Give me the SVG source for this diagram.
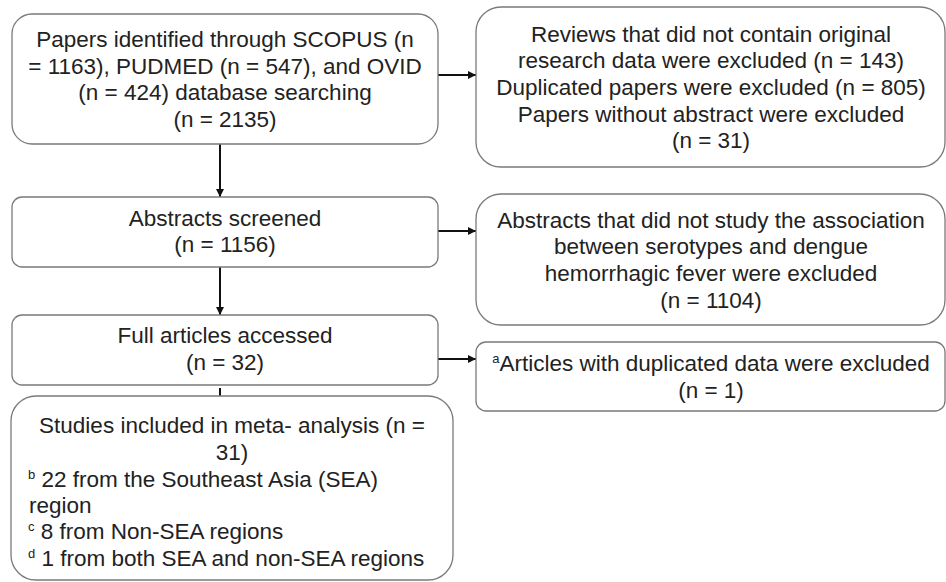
<svg xmlns="http://www.w3.org/2000/svg" width="946" height="582" viewBox="0 0 946 582">
<defs>
<style>
.box{fill:#fff;stroke:#7a7a7a;stroke-width:1.3}
.t{font-family:"Liberation Sans",Arial,sans-serif;font-size:22.5px;fill:#222}
.c{text-anchor:middle}
.sup{font-size:13px}
.conn{stroke:#111;stroke-width:2;fill:none}
</style>
<marker id="ah" viewBox="0 0 10 10" refX="10" refY="5" markerWidth="4" markerHeight="4" markerUnits="strokeWidth" orient="auto">
<path d="M0,0 L10,5 L0,10 z" fill="#111"/>
</marker>
</defs>
<rect width="946" height="582" fill="#fff"/>
<g id="connectors">
<line class="conn" x1="220" y1="144" x2="220" y2="197" marker-end="url(#ah)"/>
<line class="conn" x1="220" y1="267" x2="220" y2="315" marker-end="url(#ah)"/>
<line class="conn" x1="220" y1="388" x2="220" y2="396"/>
<line class="conn" x1="438" y1="75" x2="476" y2="75" marker-end="url(#ah)"/>
<line class="conn" x1="438" y1="231" x2="476" y2="231" marker-end="url(#ah)"/>
<line class="conn" x1="438" y1="359" x2="476" y2="359" marker-end="url(#ah)"/>
</g>
<g id="n1">
<rect class="box" x="12" y="14" width="426" height="130" rx="20"/>
<text class="t c" x="225" y="47">Papers identified through SCOPUS (n</text>
<text class="t c" x="225" y="74">= 1163), PUDMED (n = 547), and OVID</text>
<text class="t c" x="225" y="100">(n = 424) database searching</text>
<text class="t c" x="225" y="127">(n = 2135)</text>
</g>
<g id="n2">
<rect class="box" x="12" y="197" width="426" height="70" rx="10"/>
<text class="t c" x="225" y="226">Abstracts screened</text>
<text class="t c" x="225" y="252">(n = 1156)</text>
</g>
<g id="n3">
<rect class="box" x="12" y="315" width="426" height="70" rx="10"/>
<text class="t c" x="225" y="343">Full articles accessed</text>
<text class="t c" x="225" y="370">(n = 32)</text>
</g>
<g id="n4">
<rect class="box" x="11" y="396" width="442" height="184" rx="25"/>
<text class="t c" x="232" y="433">Studies included in meta- analysis (n =</text>
<text class="t c" x="232" y="460">31)</text>
<text class="t" x="28" y="487"><tspan class="sup" dy="-8">b</tspan><tspan dy="8"> 22 from the Southeast Asia (SEA)</tspan></text>
<text class="t" x="29" y="513">region</text>
<text class="t" x="28" y="539"><tspan class="sup" dy="-8">c</tspan><tspan dy="8"> 8 from Non-SEA regions</tspan></text>
<text class="t" x="28" y="566"><tspan class="sup" dy="-8">d</tspan><tspan dy="8"> 1 from both SEA and non-SEA regions</tspan></text>
</g>
<g id="r1">
<rect class="box" x="476" y="7" width="469" height="160" rx="25"/>
<text class="t c" x="711" y="42">Reviews that did not contain original</text>
<text class="t c" x="711" y="68">research data  were excluded (n = 143)</text>
<text class="t c" x="711" y="95">Duplicated papers were excluded (n = 805)</text>
<text class="t c" x="711" y="122">Papers without abstract were excluded</text>
<text class="t c" x="711" y="148">(n = 31)</text>
</g>
<g id="r2">
<rect class="box" x="476" y="194" width="469" height="131" rx="25"/>
<text class="t c" x="711" y="228">Abstracts that did not study the association</text>
<text class="t c" x="711" y="254">between serotypes and dengue</text>
<text class="t c" x="711" y="281">hemorrhagic fever were excluded</text>
<text class="t c" x="711" y="308">(n = 1104)</text>
</g>
<g id="r3">
<rect class="box" x="476" y="342" width="469" height="69" rx="10"/>
<text class="t c" x="711" y="371"><tspan class="sup" dy="-8">a</tspan><tspan dy="8">Articles with duplicated data were excluded</tspan></text>
<text class="t c" x="711" y="398">(n = 1)</text>
</g>
</svg>
